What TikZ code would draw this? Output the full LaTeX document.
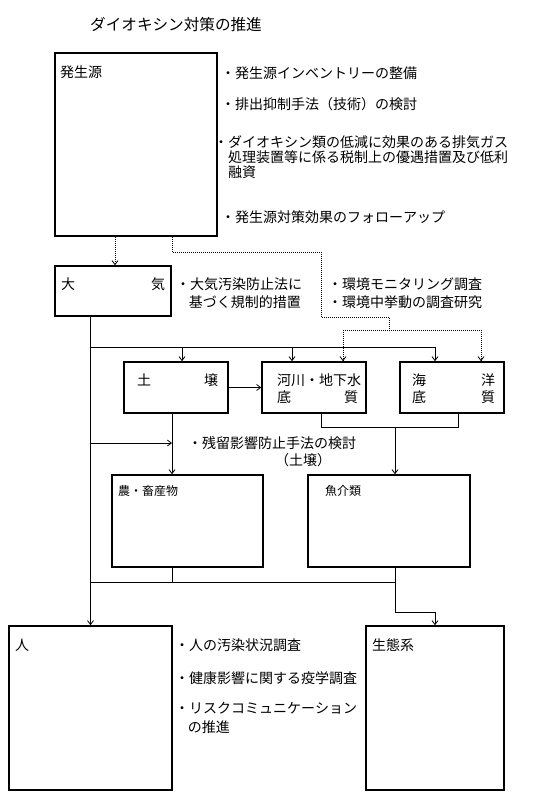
\documentclass[tikz,border=0pt]{standalone}
\usepackage{fontspec}
\setmainfont{Noto Sans CJK JP}[Kerning=Off]
\usetikzlibrary{arrows.meta}
\begin{document}
\begin{tikzpicture}[x=1pt,y=-1pt,
  box/.style={draw,line width=1.6pt,inner sep=0,anchor=center},
  conn/.style={line width=0.8pt},
  arr/.style={conn,-{Straight Barb[length=4pt,width=6pt]}},
  dots/.style={line width=0.8pt,dash pattern=on 1pt off 1pt},
  dotarr/.style={dots,-{Straight Barb[length=4pt,width=6pt]}},
  txt/.style={inner sep=0,anchor=west,font=\fontsize{14}{18}\selectfont,align=left},
  small/.style={inner sep=0,anchor=west,font=\fontsize{12}{14}\selectfont},
  title/.style={inner sep=0,anchor=west,font=\fontsize{15.6}{18}\selectfont}]
\useasboundingbox[fill=white] (0,0) rectangle (547,811);

% title
\node[title] (ttl) at (90,25) {ダイオキシン対策の推進};

% boxes
\node[box,minimum width=162,minimum height=183] (src) at (136,144.5) {};
\node[box,minimum width=116,minimum height=50] (air) at (113,291) {};
\node[box,minimum width=104,minimum height=51] (soil) at (176,387.5) {};
\node[box,minimum width=104,minimum height=51] (river) at (314,387.5) {};
\node[box,minimum width=104,minimum height=51] (sea) at (452,387.5) {};
\node[box,minimum width=151,minimum height=92] (agri) at (187.5,521) {};
\node[box,minimum width=162,minimum height=92] (fish) at (389,521) {};
\node[box,minimum width=163,minimum height=164] (human) at (90.5,708) {};
\node[box,minimum width=138,minimum height=164] (eco) at (435,708) {};

% box labels
\node[txt] (srcl) at (60,72) {発生源};
\node[txt] (airl) at (61,284) {\makebox[104pt][s]{大\hfill 気}};
\node[txt] (soill) at (137,380) {\makebox[81pt][s]{土\hfill 壌}};
\node[txt] (riverl1) at (277,380) {河川・地下水};
\node[txt] (riverl2) at (277,397) {\makebox[81pt][s]{底\hfill 質}};
\node[txt] (seal1) at (412,380) {\makebox[83pt][s]{海\hfill 洋}};
\node[txt] (seal2) at (412,397) {\makebox[83pt][s]{底\hfill 質}};
\node[small] (agril) at (118,491) {農・畜産物};
\node[small] (fishl) at (325,491) {魚介類};
\node[txt] (humanl) at (15,645) {人};
\node[txt] (ecol) at (372,645) {生態系};

% bullet texts
\node[txt] (b1) at (221,73) {・発生源インベントリーの整備};
\node[txt] (b2) at (221,104) {・排出抑制手法（技術）の検討};
\node[txt,font=\fontsize{14}{15}\selectfont] (b3) at (214,157) {・ダイオキシン類の低減に効果のある排気ガス\\\hspace{1em}処理装置等に係る税制上の優遇措置及び低利\\\hspace{1em}融資};
\node[txt] (b4) at (221,217) {・発生源対策効果のフォローアップ};
\node[txt] (b5) at (176,293) {・大気汚染防止法に\\\hspace{0.9em}基づく規制的措置};
\node[txt] (b6) at (328,293) {・環境モニタリング調査\\・環境中挙動の調査研究};
\node[txt,font=\fontsize{14}{17}\selectfont] (b7) at (188,451.5) {・残留影響防止手法の検討\\\hspace{6.2em}（土壌）};
\node[txt] (b8) at (175,645) {・人の汚染状況調査};
\node[txt] (b9) at (175,678) {・健康影響に関する疫学調査};
\node[txt,font=\fontsize{14}{19}\selectfont] (b10) at (175,717.5) {・リスクコミュニケーション\\\hspace{0.9em}の推進};

% coordinates for junctions
\coordinate (d1) at (172,252);
\coordinate (d2) at (321,252);
\coordinate (d3) at (321,317);
\coordinate (d4) at (389,317);
\coordinate (d5) at (389,330);
\coordinate (d6) at (343,330);
\coordinate (d7) at (481,330);
\coordinate (t1) at (90,347);
\coordinate (a1) at (182,347);
\coordinate (a2) at (292,347);
\coordinate (t2) at (435,347);
\coordinate (j1) at (172,443);
\coordinate (r1) at (321,427);
\coordinate (r2) at (458,427);
\coordinate (f1) at (395,427);
\coordinate (m1) at (90,582);
\coordinate (m2) at (395,582);
\coordinate (e1) at (395,612);
\coordinate (e2) at (435,612);

% dotted connectors
\draw[dotarr] (src.south -| 115,0) -- (air.north -| 115,0);
\draw[dots] (src.south -| d1) -- (d1) -- (d2) -- (d3) -- (d4) -- (d5);
\draw[dots] (d6) -- (d7);
\draw[dotarr] (d6) -- (river.north -| d6);
\draw[dotarr] (d7) -- (sea.north -| d7);

% solid connectors
\draw[arr] (air.south -| human.north) -- (human.north);
\draw[conn] (t1) -- (t2);
\draw[arr] (a1) -- (soil.north -| a1);
\draw[arr] (a2) -- (river.north -| a2);
\draw[arr] (t2) -- (sea.north -| t2);
\draw[arr] (soil.east) -- (river.west);
\draw[arr] (soil.south -| j1) -- (agri.north -| j1);
\draw[arr] (t1 |- j1) -- (j1);
\draw[conn] (river.south -| r1) -- (r1) -- (r2) -- (sea.south -| r2);
\draw[arr] (f1) -- (fish.north -| f1);
\draw[conn] (agri.south -| j1) -- (j1 |- m1);
\draw[conn] (m1) -- (m2);
\draw[arr] (fish.south -| e1) -- (e1) -- (e2) -- (eco.north);
\end{tikzpicture}
\end{document}
